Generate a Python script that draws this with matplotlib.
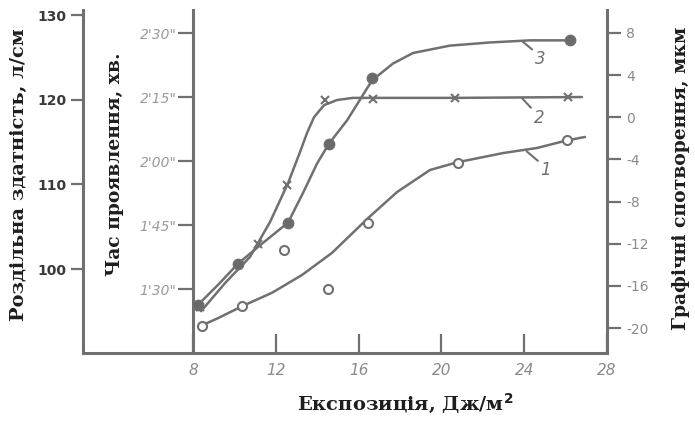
import matplotlib
matplotlib.use("Agg")
import matplotlib.pyplot as plt

# ---------------- data ----------------
# Curve 1: resolution (lines/cm) -- smooth line and measured points
c1_line_x = [8.39, 9.21, 10.37, 11.82, 13.27, 14.71, 16.45, 17.86, 19.45, 20.75, 22.98, 24.62, 26.07, 26.94]
c1_line_y = [93.3, 94.2, 95.6, 97.2, 99.3, 101.9, 106.0, 109.1, 111.7, 112.6, 113.7, 114.3, 115.2, 115.6]
c1_pts_x = [8.42, 10.35, 12.41, 14.50, 16.47, 20.82, 26.05]
c1_pts_y = [93.3, 95.6, 102.2, 97.6, 105.4, 112.5, 115.2]

# Curve 2: development time (seconds)
c2_line_x = [8.39, 9.55, 10.75, 11.72, 12.59, 13.17, 13.51, 13.85, 14.33, 14.96, 15.73, 20.66, 26.79]
c2_line_y = [84.8, 91.4, 97.5, 105.7, 114.8, 122.1, 126.6, 130.3, 133.1, 134.3, 134.8, 134.8, 135.0]
c2_pts_x = [8.34, 11.14, 12.54, 14.38, 16.70, 20.66, 26.12]
c2_pts_y = [85.8, 100.5, 114.4, 134.3, 134.5, 134.8, 135.0]

# Curve 3: graphic distortion (um)
c3_line_x = [8.24, 9.21, 10.17, 11.33, 12.59, 13.31, 13.99, 14.57, 15.44, 16.65, 17.66, 18.63, 20.41, 22.35, 24.28, 26.21]
c3_line_y = [-17.8, -15.9, -13.9, -12.0, -10.0, -7.2, -4.4, -2.5, -0.3, 3.5, 5.1, 6.1, 6.8, 7.1, 7.3, 7.3]
c3_pts_x = [8.24, 10.17, 12.59, 14.57, 16.65, 26.21]
c3_pts_y = [-17.8, -13.9, -10.0, -2.5, 3.7, 7.3]

x_ticks = [8, 12, 16, 20, 24, 28]
res_ticks = [100, 110, 120, 130]
time_ticks = [90, 105, 120, 135, 150]
time_labels = ["1'30\"", "1'45\"", "2'00\"", "2'15\"", "2'30\""]
dist_ticks = [-20, -16, -12, -8, -4, 0, 4, 8]
dist_labels = ["-20", "-16", "-12", "-8", "-4", "0", "4", "8"]

# ---------------- styling ----------------
GRAY = "#707070"
LGRAY = "#8a8a8a"
DARK = "#1e1e1e"
LW = 1.8
SPW = 2.2

fig = plt.figure(figsize=(6.95, 4.21), dpi=100)
W, H = 695.0, 421.0
ax = fig.add_axes([83 / W, 68 / H, 524 / W, 343 / H])
ax.set_xlim(2.686, 28)
ax.set_ylim(90.08, 130.6)

ax2 = ax.twinx()
ax2.set_ylim(75.0, 155.4)
ax3 = ax.twinx()
ax3.set_ylim(-22.37, 10.18)

# spines
for a in (ax, ax2, ax3):
    for s in a.spines.values():
        s.set_visible(False)
        s.set_color(GRAY)
        s.set_linewidth(SPW)
ax.spines['left'].set_visible(True)
ax.spines['bottom'].set_visible(True)
ax2.spines['left'].set_visible(True)
ax2.spines['left'].set_position(('data', 8))
ax3.spines['right'].set_visible(True)

# x axis
ax.set_xticks(x_ticks)
ax.set_xticklabels([str(v) for v in x_ticks], fontstyle='italic')
ax.tick_params(axis='x', direction='in', length=14, width=1.6, color=GRAY,
               labelcolor=LGRAY, labelsize=11, pad=7)
ax.set_xlabel("Експозиція, Дж/м$^\\mathbf{2}$", fontsize=14, fontweight='bold',
              family='DejaVu Serif', color=DARK)
ax.xaxis.set_label_coords(0.6145, -0.11)

# resolution axis (left outer)
ax.set_yticks(res_ticks)
ax.set_yticklabels([str(v) for v in res_ticks], fontweight='bold')
ax.tick_params(axis='y', direction='out', length=9, width=1.6, color=GRAY,
               labelcolor='#3a3a3a', labelsize=10, pad=3)
ax.set_ylabel("Роздільна здатність, л/см", fontsize=14, fontweight='bold',
              family='DejaVu Serif', color=DARK)
ax.yaxis.set_label_coords(-0.105, 0.52)

# time axis (inner left)
ax2.yaxis.tick_left()
ax2.yaxis.set_label_position('left')
ax2.set_yticks(time_ticks)
ax2.set_yticklabels(time_labels, fontstyle='italic')
ax2.tick_params(axis='y', direction='out', length=11, width=1.6, color=GRAY,
                labelcolor='#9a9a9a', labelsize=10, pad=1)
ax2.set_ylabel("Час проявлення, хв.", fontsize=13.5, fontweight='bold',
               family='DejaVu Serif', color=DARK)
ax2.yaxis.set_label_coords(0.078, 0.55)

# distortion axis (right)
ax3.set_yticks(dist_ticks)
ax3.set_yticklabels(dist_labels)
ax3.tick_params(axis='y', direction='out', length=10, width=1.6, color=GRAY,
                labelcolor=LGRAY, labelsize=10, pad=4)
ax3.set_ylabel("Графічні спотворення, мкм", fontsize=13.5, fontweight='bold',
               family='DejaVu Serif', color=DARK, rotation=90)
ax3.yaxis.set_label_coords(1.124, 0.51)

# ---------------- curves ----------------
ax.plot(c1_line_x, c1_line_y, color=GRAY, lw=LW, solid_capstyle='round', zorder=3)
ax.plot(c1_pts_x, c1_pts_y, linestyle='none', marker='o', markersize=6.5,
        markerfacecolor='white', markeredgecolor=GRAY, markeredgewidth=1.5, zorder=4)

ax2.plot(c2_line_x, c2_line_y, color=GRAY, lw=LW, solid_capstyle='round', zorder=3)
ax2.plot(c2_pts_x, c2_pts_y, linestyle='none', marker='x', markersize=6,
         markeredgecolor=GRAY, markeredgewidth=1.5, zorder=4)

ax3.plot(c3_line_x, c3_line_y, color=GRAY, lw=LW, solid_capstyle='round', zorder=3)
ax3.plot(c3_pts_x, c3_pts_y, linestyle='none', marker='o', markersize=7.5,
         markerfacecolor='#6a6a6a', markeredgecolor=GRAY, zorder=4)

# curve numbers with leader lines
ann = dict(textcoords='offset pixels', ha='left', va='top', fontsize=12,
           color=GRAY, fontstyle='italic')
arr = dict(arrowstyle='-', color=GRAY, lw=1.5, shrinkA=0, shrinkB=0, relpos=(0, 0.9))
ax3.annotate('3', xy=(23.94, 7.15), xytext=(12, -8), arrowprops=arr, **ann)
ax2.annotate('2', xy=(23.88, 134.8), xytext=(12, -11), arrowprops=arr, **ann)
ax.annotate('1', xy=(24.12, 113.9), xytext=(14, -10), arrowprops=arr, **ann)

fig.savefig("out.png", dpi=100)
